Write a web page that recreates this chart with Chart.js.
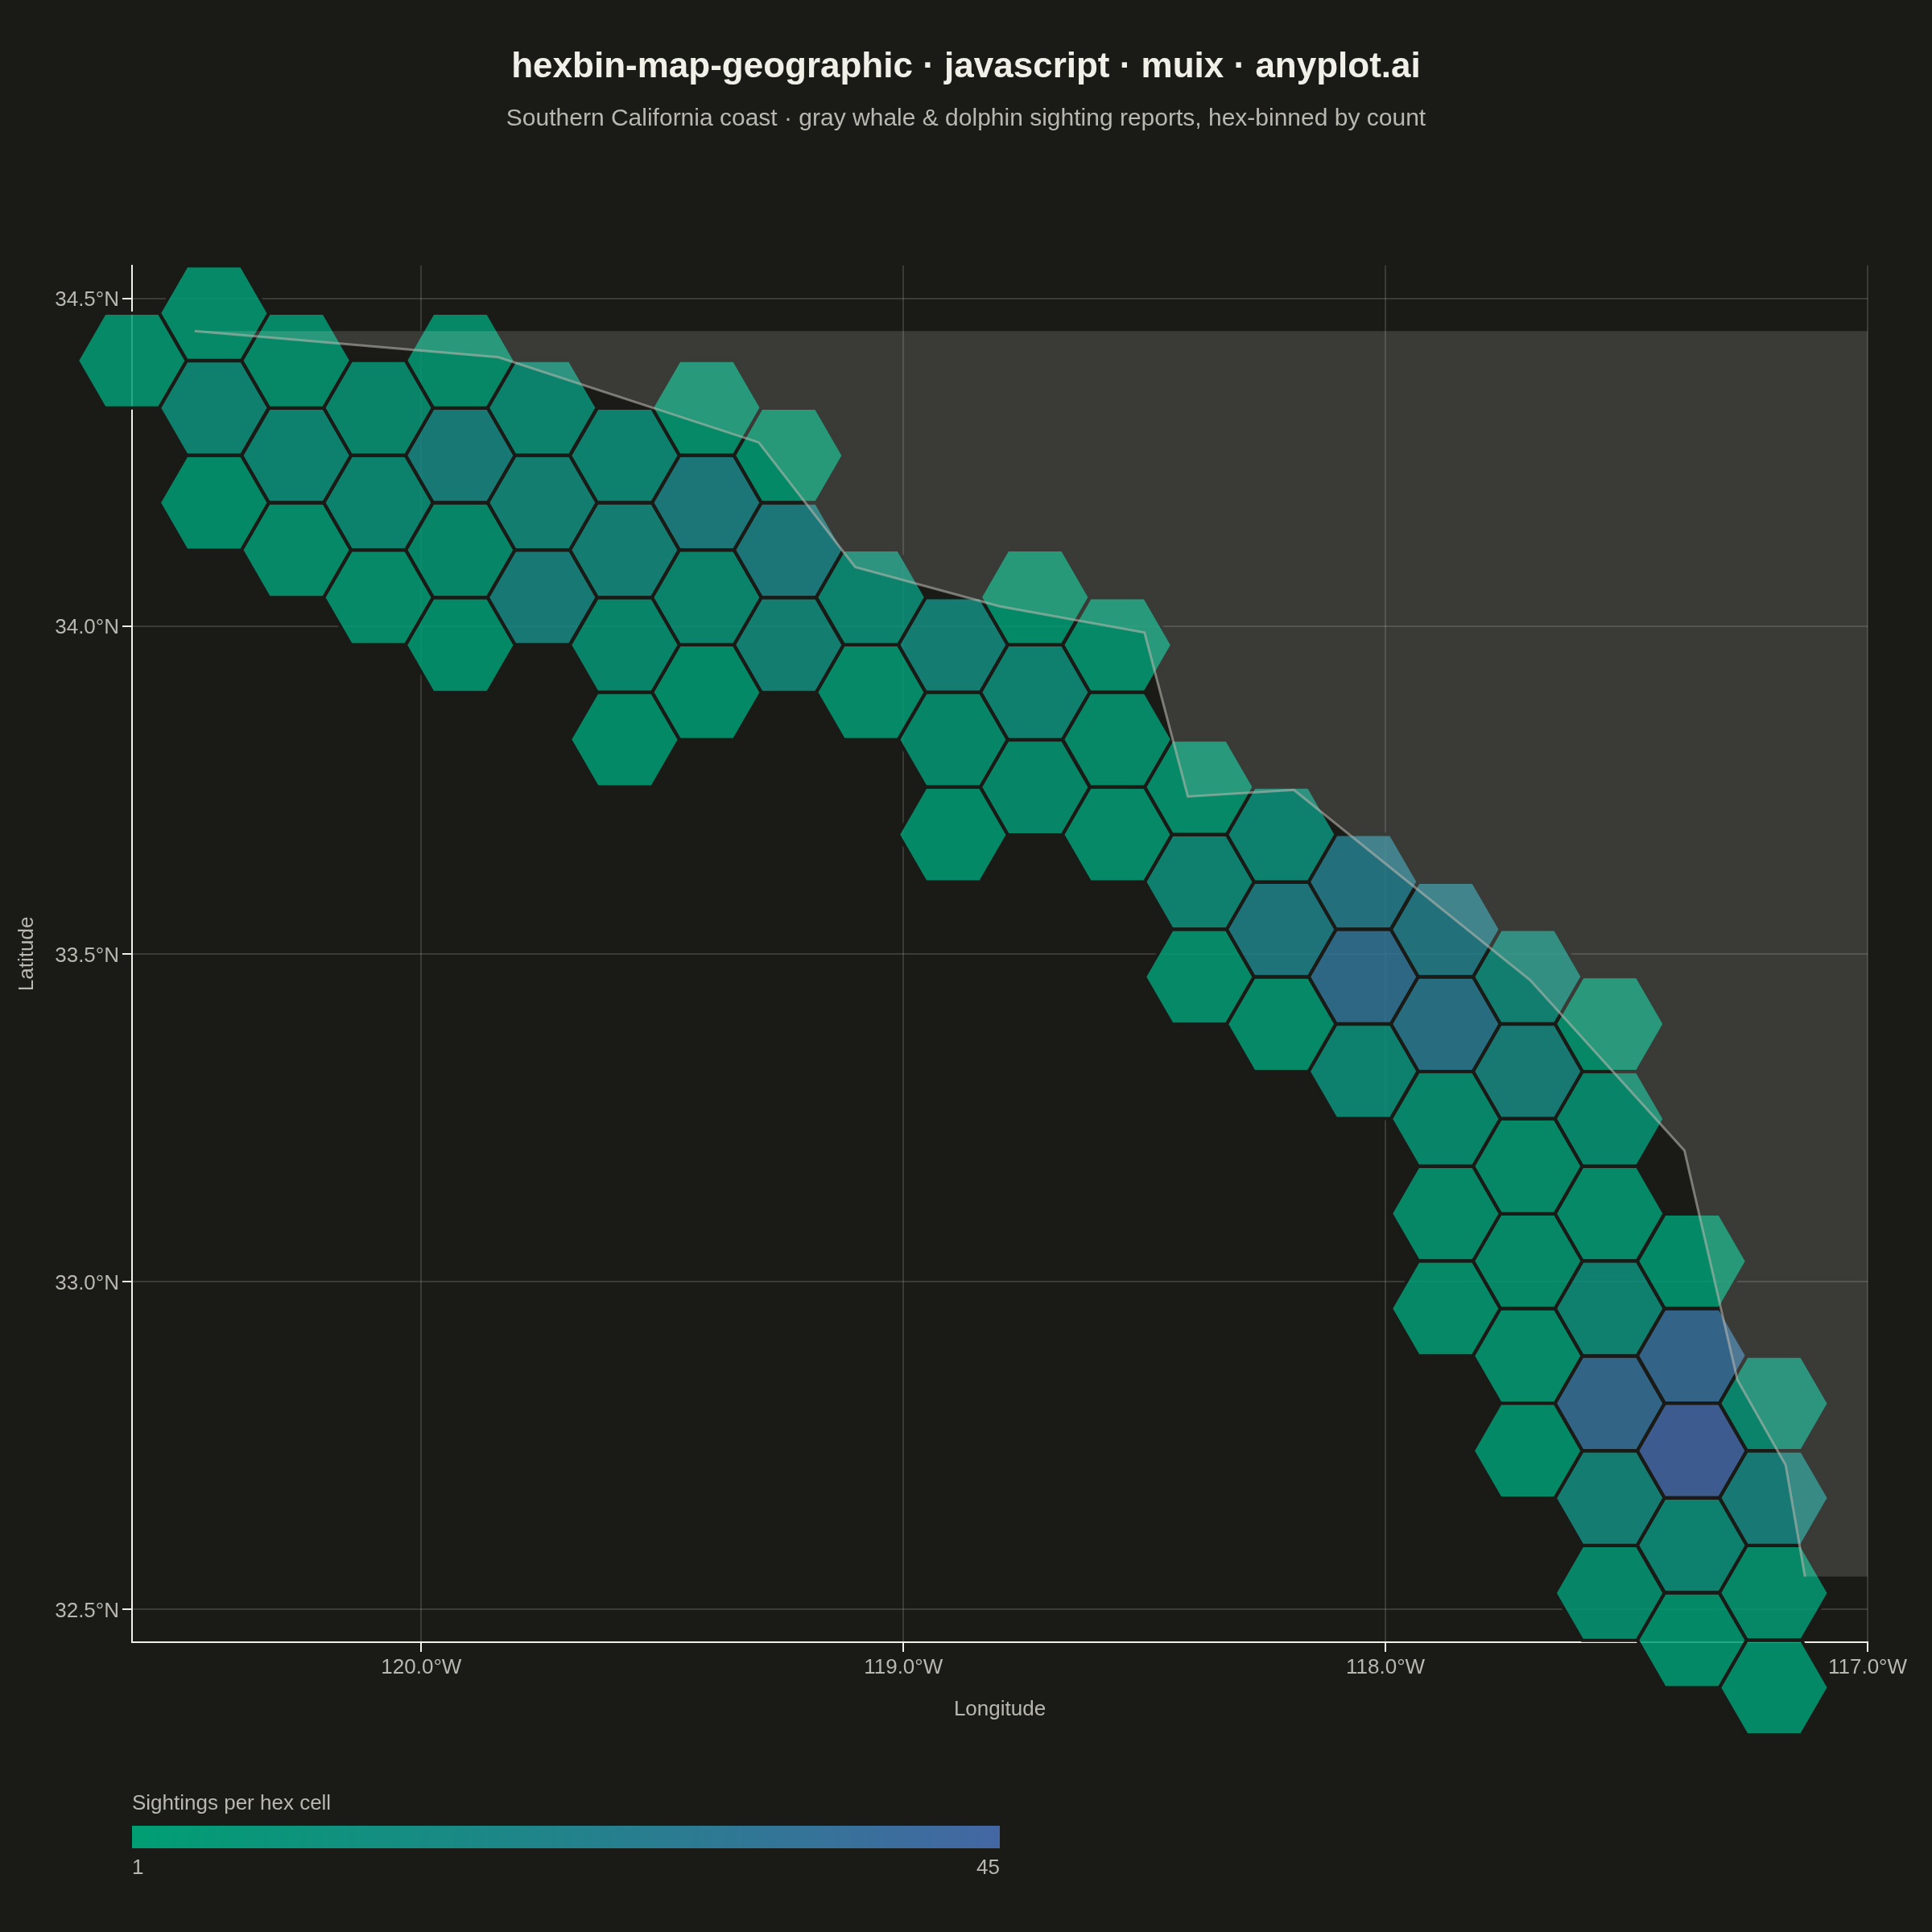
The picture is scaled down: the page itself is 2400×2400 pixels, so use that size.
<!DOCTYPE html>
<html>
<head>
<meta charset="utf-8">
<title>hexbin-map-geographic</title>
<script src="https://cdn.jsdelivr.net/npm/chart.js@4"></script>
<style>
  html, body { margin: 0; padding: 0; background: #1a1a17; }
  #wrap { position: relative; width: 2400px; height: 2400px; font-family: "Liberation Sans", Arial, sans-serif; color: #b8b7b0; }
  canvas { display: block; }
  .cb-text { position: absolute; font-size: 26px; line-height: 30px; white-space: nowrap; }
  #cbTitle { left: 164px; top: 2224px; }
  #cbBar { position: absolute; left: 164px; top: 2268px; width: 1078px; height: 28px; background: linear-gradient(90deg, #009e73, #4467a3); }
  #cbMin { left: 164px; top: 2304px; }
  #cbMax { right: 1158px; top: 2304px; }
</style>
</head>
<body>
<div id="wrap">
  <canvas id="chart" width="2400" height="2400"></canvas>
  <div class="cb-text" id="cbTitle">Sightings per hex cell</div>
  <div id="cbBar"></div>
  <div class="cb-text" id="cbMin">1</div>
  <div class="cb-text" id="cbMax">45</div>
</div>
<script>
const hexLon = [
    -120.600,
    -120.430, -120.430, -120.430,
    -120.259, -120.259, -120.259,
    -120.089, -120.089, -120.089,
    -119.919, -119.919, -119.919, -119.919,
    -119.749, -119.749, -119.749,
    -119.578, -119.578, -119.578, -119.578,
    -119.408, -119.408, -119.408, -119.408,
    -119.238, -119.238, -119.238,
    -119.067, -119.067,
    -118.897, -118.897, -118.897,
    -118.727, -118.727, -118.727,
    -118.556, -118.556, -118.556,
    -118.386, -118.386, -118.386,
    -118.216, -118.216, -118.216,
    -118.046, -118.046, -118.046,
    -117.875, -117.875, -117.875, -117.875, -117.875,
    -117.705, -117.705, -117.705, -117.705, -117.705, -117.705,
    -117.535, -117.535, -117.535, -117.535, -117.535, -117.535, -117.535,
    -117.364, -117.364, -117.364, -117.364, -117.364,
    -117.194, -117.194, -117.194, -117.194
];
const hexLat = [
    34.405,
    34.477, 34.333, 34.188,
    34.405, 34.260, 34.116,
    34.333, 34.188, 34.044,
    34.405, 34.260, 34.116, 33.971,
    34.333, 34.188, 34.044,
    34.260, 34.116, 33.971, 33.827,
    34.333, 34.188, 34.044, 33.899,
    34.260, 34.116, 33.971,
    34.044, 33.899,
    33.971, 33.827, 33.682,
    34.044, 33.899, 33.754,
    33.971, 33.827, 33.682,
    33.754, 33.610, 33.465,
    33.682, 33.537, 33.393,
    33.610, 33.465, 33.321,
    33.537, 33.393, 33.248, 33.104, 32.959,
    33.465, 33.321, 33.176, 33.031, 32.887, 32.742,
    33.393, 33.248, 33.104, 32.959, 32.814, 32.670, 32.525,
    33.031, 32.887, 32.742, 32.598, 32.453,
    32.814, 32.670, 32.525, 32.381
];
const hexCount = [
    2,
    2, 10, 1,
    3, 9, 2,
    6, 8, 2,
    3, 17, 4, 1,
    8, 13, 17,
    9, 14, 5, 1,
    2, 20, 7, 1,
    1, 20, 13,
    8, 2,
    14, 4, 1,
    1, 10, 4,
    2, 3, 2,
    2, 10, 2,
    9, 22, 2,
    26, 34, 9,
    24, 29, 5, 3, 2,
    12, 16, 3, 3, 2, 1,
    3, 5, 2, 10, 36, 14, 4,
    1, 37, 45, 9, 1,
    7, 17, 3, 1
];

const coastLon = [-120.47, -119.84, -119.30, -119.10, -118.80, -118.50, -118.41, -118.19, -117.70, -117.38, -117.27, -117.17, -117.13];
const coastLat = [34.45, 34.41, 34.28, 34.09, 34.03, 33.99, 33.74, 33.75, 33.46, 33.20, 32.85, 32.72, 32.55];
// land closes along the right edge of the map
const landEdgeLon = [-117.00, -117.00];
const landEdgeLat = [32.55, 34.45];

const lonTicks = [-120, -119, -118, -117];
const latTicks = [32.5, 33, 33.5, 34, 34.5];

const bg = '#1a1a17';
const ink = '#f0efe8';
const soft = '#b8b7b0';
const gridColor = 'rgba(240,239,232,0.15)';
const minCount = 1;
const maxCount = 45;
const lowColor = [0, 158, 115];
const highColor = [68, 103, 163];
const hexRadius = 68;

function countColor(c) {
    const t = (c - minCount) / (maxCount - minCount);
    const rgb = lowColor.map((v, i) => Math.round(v + (highColor[i] - v) * t));
    return `rgba(${rgb[0]},${rgb[1]},${rgb[2]},0.85)`;
}

function traceHex(ctx, pt) {
    ctx.beginPath();
    for (let a = 0; a < 6; a++) {
        const ang = a * Math.PI / 3;
        const px = pt.x + hexRadius * Math.cos(ang);
        const py = pt.y + hexRadius * Math.sin(ang);
        if (a === 0) ctx.moveTo(px, py);
        else ctx.lineTo(px, py);
    }
    ctx.closePath();
}

// Chart.js has no hexagon point, so cells are traced around each parsed point.
// fills go first, otherwise a neighbour's fill eats half of the outline
const hexPlugin = {
    id: 'hexCells',
    afterDatasetDraw(chart, args) {
        if (args.index !== 0) return;
        const ctx = chart.ctx;
        ctx.save();
        args.meta.data.forEach((pt, i) => {
            traceHex(ctx, pt);
            ctx.fillStyle = countColor(hexCount[i]);
            ctx.fill();
        });
        ctx.lineWidth = 4;
        ctx.strokeStyle = bg;
        args.meta.data.forEach(pt => {
            traceHex(ctx, pt);
            ctx.stroke();
        });
        ctx.restore();
    }
};

const landPoints = coastLon.concat(landEdgeLon).map((x, i) => ({ x, y: coastLat.concat(landEdgeLat)[i] }));
const coastPoints = coastLon.map((x, i) => ({ x, y: coastLat[i] }));
const hexPoints = hexLon.map((x, i) => ({ x, y: hexLat[i] }));

new Chart(document.getElementById('chart'), {
    type: 'scatter',
    plugins: [hexPlugin],
    data: {
        datasets: [
            {
                label: 'Sightings',
                data: hexPoints,
                pointStyle: false,
                pointRadius: 0,
                order: 3
            },
            {
                label: 'Land',
                data: landPoints,
                showLine: true,
                fill: 'shape',
                backgroundColor: 'rgba(240,239,232,0.15)',
                borderWidth: 0,
                pointRadius: 0,
                tension: 0,
                order: 2
            },
            {
                label: 'Coastline',
                data: coastPoints,
                showLine: true,
                fill: false,
                borderColor: 'rgba(184,183,176,0.58)',
                borderWidth: 3,
                pointRadius: 0,
                tension: 0,
                order: 1
            }
        ]
    },
    options: {
        responsive: false,
        animation: false,
        devicePixelRatio: 1,
        layout: { padding: { left: 18, right: 18, top: 0, bottom: 260.5 } },
        plugins: {
            legend: { display: false },
            tooltip: { enabled: false },
            title: {
                display: true,
                text: 'hexbin-map-geographic · javascript · muix · anyplot.ai',
                color: ink,
                font: { family: '"Liberation Sans"', size: 44, weight: 'bold' },
                padding: { top: 57.6, bottom: 19.6 }
            },
            subtitle: {
                display: true,
                text: 'Southern California coast · gray whale & dolphin sighting reports, hex-binned by count',
                color: soft,
                font: { family: '"Liberation Sans"', size: 30, weight: 'normal' },
                padding: { top: 0, bottom: 163.8 }
            }
        },
        scales: {
            x: {
                type: 'linear',
                min: -120.6,
                max: -117,
                afterBuildTicks: axis => { axis.ticks = lonTicks.map(value => ({ value })); },
                afterFit: axis => { axis.height = 99.5; },
                grid: { color: gridColor, lineWidth: 2, tickColor: ink, tickLength: 12, tickWidth: 2 },
                border: { color: ink, width: 2 },
                ticks: {
                    color: soft,
                    padding: 4,
                    maxRotation: 0,
                    autoSkip: false,
                    font: { family: '"Liberation Sans"', size: 26 },
                    callback: v => Math.abs(v).toFixed(1) + '°W'
                },
                title: {
                    display: true,
                    text: 'Longitude',
                    color: soft,
                    padding: 0,
                    font: { family: '"Liberation Sans"', size: 26 }
                }
            },
            y: {
                type: 'linear',
                min: 32.45,
                max: 34.55,
                afterBuildTicks: axis => { axis.ticks = latTicks.map(value => ({ value })); },
                afterFit: axis => { axis.width = 146; },
                grid: { color: gridColor, lineWidth: 2, tickColor: ink, tickLength: 12, tickWidth: 2 },
                border: { color: ink, width: 2 },
                ticks: {
                    color: soft,
                    padding: 4,
                    labelOffset: 2.5,
                    autoSkip: false,
                    font: { family: '"Liberation Sans"', size: 26 },
                    callback: v => v.toFixed(1) + '°N'
                },
                title: {
                    display: true,
                    text: 'Latitude',
                    color: soft,
                    padding: 0,
                    font: { family: '"Liberation Sans"', size: 26 }
                }
            },
            // empty axis, only keeps the right margin so the title stays centred on the page
            spacer: {
                type: 'linear',
                position: 'right',
                afterFit: axis => { axis.width = 62; },
                grid: { display: false },
                border: { display: false },
                ticks: { display: false }
            }
        }
    }
});
</script>
</body>
</html>
